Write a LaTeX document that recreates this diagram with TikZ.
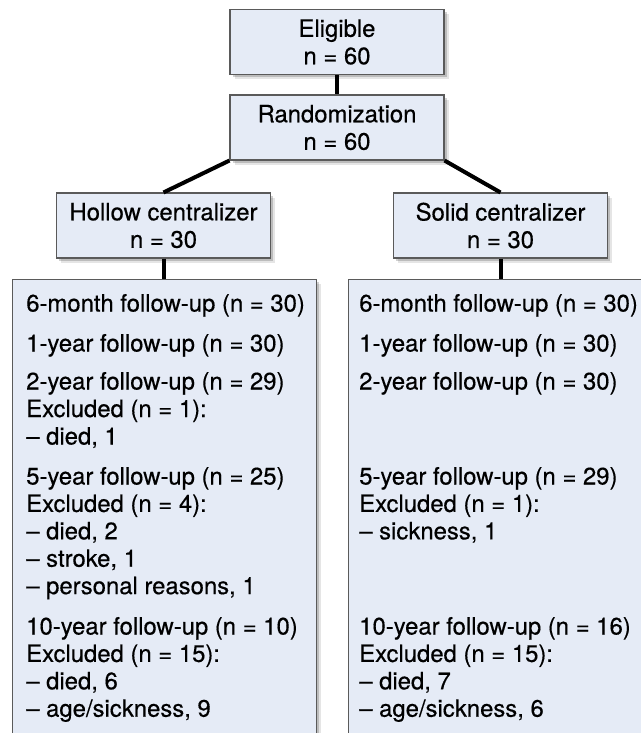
\documentclass[tikz,border=0pt]{standalone}
\usepackage{fontspec}
\setmainfont{TeX Gyre Heros}[FakeBold=0.45]
\usetikzlibrary{shadows}
\definecolor{boxfill}{RGB}{229,235,246}
\definecolor{boxline}{RGB}{90,90,90}
\newcommand{\rowfont}{\fontsize{17.9pt}{20.6pt}\selectfont}
\begin{document}
\begin{tikzpicture}[x=0.75pt,y=-0.75pt,
  box/.style={draw=boxline, line width=0.8pt, fill=boxfill, inner sep=0pt,
    drop shadow={shadow xshift=3.6pt, shadow yshift=-3.6pt, opacity=0.10, fill=black},
    drop shadow={shadow xshift=2.2pt, shadow yshift=-2.2pt, opacity=0.18, fill=black}},
  smallbox/.style={box, minimum width=160.5pt, minimum height=48.75pt, align=center, font=\rowfont},
  bigbox/.style={box, minimum width=228pt, minimum height=360pt, anchor=north west},
  row/.style={anchor=base west, inner sep=0pt, font=\rowfont},
  link/.style={line width=3pt, draw=black}
]
\useasboundingbox (0,0) rectangle (641,733);
\clip (0,0) rectangle (641,733);

\node[smallbox] (E)  at (337,42)    {Eligible\\n = 60};
\node[smallbox] (Rd) at (337,127.5) {Randomization\\n = 60};
\node[smallbox] (H)  at (163.5,225.5) {Hollow centralizer\\n = 30};
\node[smallbox] (S)  at (500.5,225.5) {Solid centralizer\\n = 30};

\node[bigbox] (L) at (12,279) {};
\node[bigbox] (R) at (347.5,279) {};

% left column
\node[row] (l1)  at (26,311.5) {6-month follow-up (n = 30)};
\node[row] (l2)  at (26,351.5) {1-year follow-up (n = 30)};
\node[row] (l3)  at (26,389.5) {2-year follow-up (n = 29)};
\node[row] (l4)  at (26,417)   {Excluded (n = 1):};
\node[row] (l5)  at (26,444.5) {– died, 1};
\node[row] (l6)  at (26,484.5) {5-year follow-up (n = 25)};
\node[row] (l7)  at (26,511.9) {Excluded (n = 4):};
\node[row] (l8)  at (26,539.3) {– died, 2};
\node[row] (l9)  at (26,566.7) {– stroke, 1};
\node[row] (l10) at (26,594.1) {– personal reasons, 1};
\node[row] (l11) at (26,634.5) {10-year follow-up (n = 10)};
\node[row] (l12) at (26,661.9) {Excluded (n = 15):};
\node[row] (l13) at (26,689.3) {– died, 6};
\node[row] (l14) at (26,716.7) {– age/sickness, 9};

% right column
\node[row] (r1)  at (359,311.5) {6-month follow-up (n = 30)};
\node[row] (r2)  at (359,351.5) {1-year follow-up (n = 30)};
\node[row] (r3)  at (359,389.5) {2-year follow-up (n = 30)};
\node[row] (r6)  at (359,484.5) {5-year follow-up (n = 29)};
\node[row] (r7)  at (359,511.9) {Excluded (n = 1):};
\node[row] (r8)  at (359,539.3) {– sickness, 1};
\node[row] (r11) at (359,634.5) {10-year follow-up (n = 16)};
\node[row] (r12) at (359,661.9) {Excluded (n = 15):};
\node[row] (r13) at (359,689.3) {– died, 7};
\node[row] (r14) at (359,716.7) {– age/sickness, 6};

% connectors
\draw[link] (E.south) -- (Rd.north);
\draw[link] (Rd.south west) -- (H.north);
\draw[link] (Rd.south east) -- (S.north);
\draw[link] (H.south) -- (H.south |- L.north);
\draw[link] (S.south) -- (S.south |- R.north);
\end{tikzpicture}
\end{document}
